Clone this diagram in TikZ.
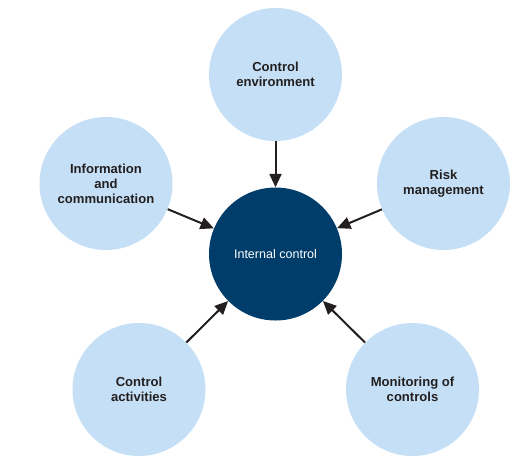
\documentclass[tikz,border=0pt]{standalone}
\usepackage{fontspec}
\setmainfont{Liberation Sans}
\usepackage{tikz}
\usetikzlibrary{positioning,shapes,arrows,arrows.meta}

\definecolor{paleblue}{RGB}{197,224,246}
\definecolor{navy}{RGB}{0,61,106}
\definecolor{ink}{RGB}{35,31,32}

\begin{document}
\begin{tikzpicture}[x=0.75pt, y=-0.75pt,
  outer/.style={circle, fill=paleblue, minimum size=99.75pt, inner sep=0pt, align=center, text=ink, font=\fontsize{9.8}{11.2}\selectfont\bfseries},
  inner/.style={circle, fill=navy, minimum size=99.75pt, inner sep=0pt, align=center, text=white, font=\fontsize{9.4}{11}\selectfont},
  link/.style={draw=ink, line width=1.5pt, -{Triangle[length=10pt,width=9pt]}}]
\useasboundingbox (0,0) rectangle (530,465);

\node[inner] (ic) at (275.5,254) {Internal control};
\node[outer] (env) at (275.5,74.5) {Control\\environment};
\node[outer] (risk) at (443.5,183.5) {Risk\\management};
\node[outer] (info) at (106,183.5) {Information\\and\\communication};
\node[outer] (act) at (139,389.5) {Control\\activities};
\node[outer] (mon) at (412.5,389.5) {Monitoring of\\controls};

\draw[link] (env) -- (ic);
\draw[link] (risk) -- (ic);
\draw[link] (info) -- (ic);
\draw[link] (act) -- (ic);
\draw[link] (mon) -- (ic);
\end{tikzpicture}
\end{document}
